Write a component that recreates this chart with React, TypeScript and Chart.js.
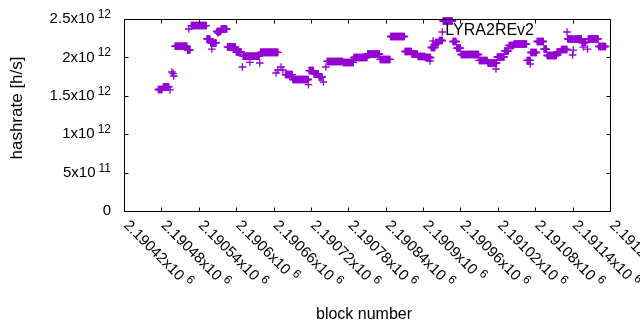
import React, { useEffect, useRef } from 'react';
import { Chart, registerables } from 'chart.js';

Chart.register(...registerables);

const seriesLabel = 'LYRA2REv2';
const seriesColor = '#9400d3';

// Run-length encoded per-block hashrate readings: [start block, end block] share one value
const runStart = [
  2190475, 2190483, 2190494, 2190497, 2190499, 2190500, 2190502, 2190522, 2190524, 2190528,
  2190553, 2190559, 2190561, 2190571, 2190569, 2190576, 2190586, 2190600, 2190610, 2190611,
  2190622, 2190638, 2190639, 2190664, 2190667, 2190672, 2190675, 2190679, 2190691, 2190716,
  2190717, 2190725, 2190733, 2190740, 2190744, 2190746, 2190772, 2190789, 2190811, 2190831,
  2190848, 2190871, 2190882, 2190892, 2190904, 2190911, 2190913, 2190916, 2190920, 2190926,
  2190931, 2190932, 2190948, 2190954, 2190961, 2190990, 2191004, 2191017, 2191019, 2191031,
  2191038, 2191046, 2191067, 2191072, 2191073, 2191083, 2191094, 2191099, 2191115, 2191122,
  2191132, 2191140, 2191141, 2191142, 2191155, 2191157, 2191164, 2191165, 2191182,
];
const runEnd = [
  2190481, 2190492, 2190494, 2190497, 2190499, 2190500, 2190521, 2190526, 2190524, 2190552,
  2190558, 2190568, 2190561, 2190571, 2190575, 2190585, 2190599, 2190608, 2190610, 2190637,
  2190622, 2190638, 2190667, 2190664, 2190667, 2190672, 2190675, 2190690, 2190716, 2190716,
  2190724, 2190732, 2190738, 2190740, 2190744, 2190771, 2190788, 2190810, 2190830, 2190847,
  2190870, 2190881, 2190891, 2190903, 2190912, 2190911, 2190919, 2190916, 2190925, 2190931,
  2190931, 2190947, 2190953, 2190960, 2190989, 2191003, 2191018, 2191017, 2191030, 2191037,
  2191045, 2191066, 2191072, 2191072, 2191082, 2191093, 2191098, 2191114, 2191121, 2191131,
  2191140, 2191140, 2191141, 2191154, 2191161, 2191157, 2191164, 2191181, 2191193,
];
const runValue = [
  1.582e12, 1.615e12, 1.576e12, 1.810e12, 1.790e12, 1.758e12, 2.145e12, 2.096e12, 2.370e12, 2.415e12,
  2.240e12, 2.188e12, 2.109e12, 2.318e12, 2.337e12, 2.370e12, 2.135e12, 2.070e12, 1.875e12, 2.014e12,
  1.936e12, 1.927e12, 2.066e12, 1.797e12, 1.836e12, 1.875e12, 1.836e12, 1.777e12, 1.712e12, 1.645e12,
  1.829e12, 1.785e12, 1.745e12, 1.680e12, 1.875e12, 1.947e12, 1.934e12, 1.999e12, 2.044e12, 1.973e12,
  2.272e12, 2.077e12, 2.044e12, 2.012e12, 1.999e12, 1.953e12, 2.129e12, 2.214e12, 2.194e12, 2.220e12,
  2.331e12, 2.474e12, 2.207e12, 2.122e12, 2.038e12, 1.960e12, 1.927e12, 1.849e12, 2.005e12, 2.083e12,
  2.155e12, 2.174e12, 1.960e12, 1.914e12, 2.064e12, 2.207e12, 2.109e12, 2.025e12, 2.070e12, 2.103e12,
  2.240e12, 2.031e12, 2.096e12, 2.240e12, 2.194e12, 2.135e12, 2.109e12, 2.240e12, 2.142e12,
];

const xMin = 2190420;
const xMax = 2191200;
const xTickValues = [
  2190420, 2190480, 2190540, 2190600, 2190660, 2190720, 2190780,
  2190840, 2190900, 2190960, 2191020, 2191080, 2191140, 2191200,
];
const xTickLabels = [
  '2.19042', '2.19048', '2.19054', '2.1906', '2.19066', '2.19072', '2.19078',
  '2.19084', '2.1909', '2.19096', '2.19102', '2.19108', '2.19114', '2.1912',
];
const xTickExponent = '6';

const yMin = 0;
const yMax = 2.5e12;
const yTickValues = [0, 5e11, 1e12, 1.5e12, 2e12, 2.5e12];
const yTickLabels = ['0', '5x10', '1x10', '1.5x10', '2x10', '2.5x10'];
const yTickExponents = ['', '11', '12', '12', '12', '12'];

const xTitle = 'block number';
const yTitle = 'hashrate [h/s]';

const FONT = '"Liberation Sans", Arial, sans-serif';

function buildPoints() {
  const pts: { x: number; y: number }[] = [];
  for (let i = 0; i < runStart.length; i++) {
    for (let b = runStart[i]; b <= runEnd[i]; b++) {
      pts.push({ x: b, y: runValue[i] });
    }
  }
  return pts;
}

const gnuplotFrame = {
  id: 'gnuplotFrame',
  afterDraw(chart: any) {
    const ctx = chart.ctx as CanvasRenderingContext2D;
    const { left, right, top, bottom } = chart.chartArea;
    const xs = chart.scales.x;
    const ys = chart.scales.y;
    const L = Math.floor(left) + 0.5;
    const R = Math.floor(right) + 0.5;
    const T = Math.floor(top) + 0.5;
    const B = Math.floor(bottom) + 0.5;
    ctx.save();
    ctx.strokeStyle = '#000';
    ctx.lineWidth = 1;
    ctx.beginPath();
    ctx.rect(L, T, R - L, B - T);
    const tl = 4;
    yTickValues.forEach((v) => {
      const py = Math.round(ys.getPixelForValue(v)) + 0.5;
      ctx.moveTo(L, py); ctx.lineTo(L + tl, py);
      ctx.moveTo(R, py); ctx.lineTo(R - tl, py);
    });
    xTickValues.forEach((v) => {
      const px = Math.round(xs.getPixelForValue(v)) + 0.5;
      ctx.moveTo(px, B); ctx.lineTo(px, B - tl);
      ctx.moveTo(px, T); ctx.lineTo(px, T + tl);
    });
    ctx.stroke();

    ctx.fillStyle = '#000';
    const labelRight = left - 13;
    yTickValues.forEach((v, i) => {
      const py = ys.getPixelForValue(v);
      const sup = yTickExponents[i];
      let endX = labelRight;
      if (sup) {
        ctx.font = `12px ${FONT}`;
        const sw = ctx.measureText(sup).width;
        ctx.textAlign = 'left';
        ctx.textBaseline = 'alphabetic';
        ctx.fillText(sup, labelRight - sw, py - 1);
        endX = labelRight - sw - 3;
      }
      ctx.font = `15px ${FONT}`;
      ctx.textAlign = 'right';
      ctx.textBaseline = 'middle';
      ctx.fillText(yTickLabels[i], endX, py);
    });

    xTickValues.forEach((v, i) => {
      const px = xs.getPixelForValue(v);
      ctx.save();
      ctx.translate(px + 2, bottom + 12);
      ctx.rotate(Math.PI / 4);
      ctx.font = `15px ${FONT}`;
      ctx.textAlign = 'left';
      ctx.textBaseline = 'middle';
      const main = xTickLabels[i] + 'x10';
      ctx.fillText(main, 0, 0);
      const w = ctx.measureText(main).width;
      ctx.font = `12px ${FONT}`;
      ctx.fillText(xTickExponent, w + 4, -5);
      ctx.restore();
    });

    ctx.font = `16px ${FONT}`;
    ctx.textAlign = 'center';
    ctx.textBaseline = 'middle';
    ctx.fillText(xTitle, 364, 315);
    ctx.save();
    ctx.translate(17, 108);
    ctx.rotate(-Math.PI / 2);
    ctx.font = `17px ${FONT}`;
    ctx.fillText(yTitle, 0, 0);
    ctx.restore();

    const label = chart.data.datasets[0].label;
    ctx.font = `16px ${FONT}`;
    ctx.textAlign = 'right';
    ctx.textBaseline = 'middle';
    ctx.fillText(label, 534, 31);
    ctx.strokeStyle = chart.data.datasets[0].borderColor;
    ctx.lineWidth = 1.3;
    ctx.beginPath();
    const kx = 567, ky = 32, kr = 3.8;
    ctx.moveTo(kx - kr, ky); ctx.lineTo(kx + kr, ky);
    ctx.moveTo(kx, ky - kr); ctx.lineTo(kx, ky + kr);
    ctx.stroke();
    ctx.restore();
  },
};

export default function App() {
  const canvasRef = useRef<HTMLCanvasElement | null>(null);

  useEffect(() => {
    document.body.style.margin = '0';
    const canvas = canvasRef.current;
    if (!canvas) return;
    const chart = new Chart(canvas, {
      type: 'scatter',
      data: {
        datasets: [
          {
            label: seriesLabel,
            data: buildPoints(),
            borderColor: seriesColor,
            backgroundColor: seriesColor,
            pointStyle: 'cross',
            pointRadius: 3.8,
            pointBorderWidth: 1.3,
            borderWidth: 1.3,
            showLine: false,
            clip: false as any,
          },
        ],
      },
      options: {
        responsive: false,
        animation: false,
        layout: { padding: { left: 0, top: 19, right: 30, bottom: 0 } },
        plugins: {
          legend: { display: false },
          tooltip: { enabled: false },
        },
        scales: {
          x: {
            type: 'linear',
            min: xMin,
            max: xMax,
            grid: { display: false },
            border: { display: false },
            ticks: { display: false, stepSize: 60 },
            afterFit: (scale: any) => { scale.height = 119; },
          },
          y: {
            type: 'linear',
            min: yMin,
            max: yMax,
            grid: { display: false },
            border: { display: false },
            ticks: { display: false, stepSize: 5e11 },
            afterFit: (scale: any) => { scale.width = 124; },
          },
        },
      },
      plugins: [gnuplotFrame],
    });
    return () => chart.destroy();
  }, []);

  return (
    <div style={{ width: 640, height: 330, background: '#fff' }}>
      <canvas ref={canvasRef} width={640} height={330} style={{ display: 'block' }} />
    </div>
  );
}
